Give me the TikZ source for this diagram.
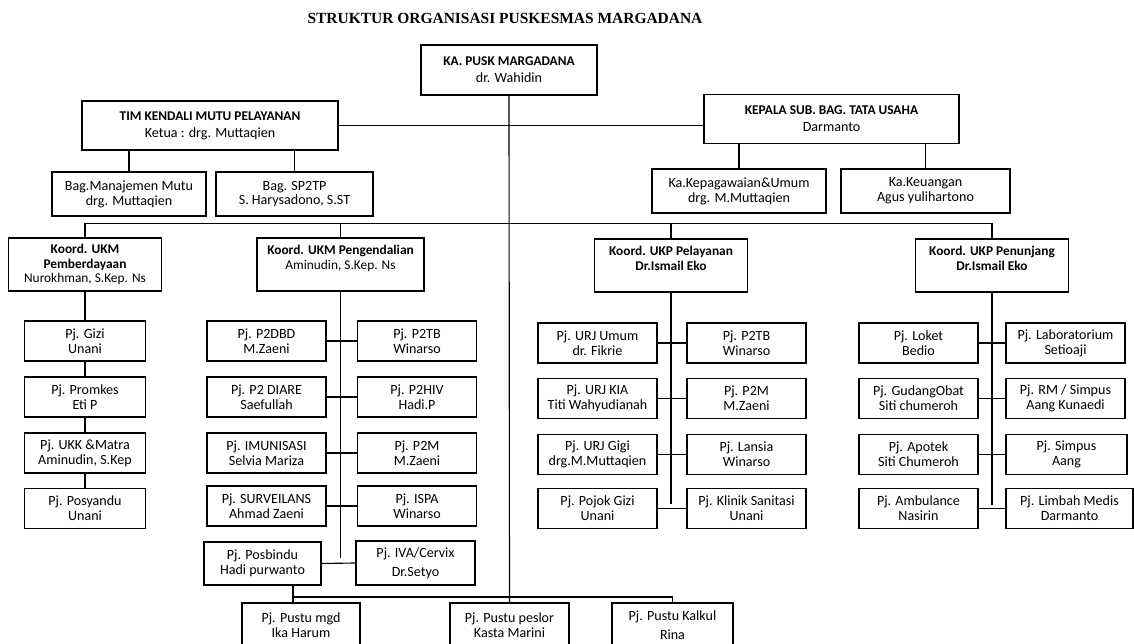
\documentclass[tikz,border=0pt]{standalone}
\usepackage{fontspec}
\setmainfont{Carlito}
\newfontfamily\titlefont{Liberation Serif}

\begin{document}
\begin{tikzpicture}[
    x=0.025cm, y=-0.025cm,
    box/.style={rectangle, draw=black, line width=0.9pt, fill=white, align=center, inner sep=1pt, font=\fontsize{10}{10.5}\selectfont},
    pj/.style={box, minimum width=2.98cm, minimum height=1cm},
    head/.style={box, minimum height=1.22cm, font=\fontsize{10}{12}\selectfont},
    koord/.style={box, minimum width=3.82cm, minimum height=1.33cm, font=\fontsize{9.5}{10.5}\selectfont\bfseries},
    link/.style={draw=black, line width=0.8pt}
]
    \useasboundingbox (0,0) rectangle (1134,644);

    % Title
    \node[font=\titlefont\bfseries\fontsize{11}{12}\selectfont] (title) at (505,18) {STRUKTUR ORGANISASI PUSKESMAS MARGADANA};

    % Pimpinan
    \node[head, minimum width=4.4cm, minimum height=1.25cm] (ka) at (509,70) {\fontsize{9.5}{12}\selectfont\textbf{KA. PUSK MARGADANA}\\dr. Wahidin};
    \node[head, minimum width=6.4cm] (tim) at (210,125.5) {\fontsize{9.5}{12}\selectfont\textbf{TIM KENDALI MUTU PELAYANAN}\\Ketua : drg. Muttaqien};
    \node[head, minimum width=6.375cm] (kepala) at (831.5,119) {\fontsize{9.5}{12}\selectfont\textbf{KEPALA SUB. BAG. TATA USAHA}\\Darmanto};

    % Tim mutu & tata usaha
    \node[pj, minimum width=3.85cm, minimum height=1.1cm] (manajemen) at (129,194) {Bag.Manajemen Mutu\\drg. Muttaqien};
    \node[pj, minimum width=3.925cm, minimum height=1.1cm] (sp2tp) at (294.5,194) {Bag. SP2TP\\S. Harysadono, S.ST};
    \node[pj, minimum width=4.35cm, minimum height=1.1cm] (kepeg) at (739,191) {Ka.Kepagawaian\&Umum\\drg. M.Muttaqien};
    \node[pj, minimum width=4.225cm, minimum height=1.1cm] (keuangan) at (925.5,191) {Ka.Keuangan\\Agus yulihartono};

    % Koordinator
    \node[koord] (ukm1) at (85,264.5) {Koord. UKM\\Pemberdayaan\\\mdseries Nurokhman, S.Kep. Ns};
    \node[koord, minimum width=4.175cm] (ukm2) at (340.5,264.5) {Koord. UKM Pengendalian\\\mdseries Aminudin, S.Kep. Ns\\~};
    \node[koord] (ukp1) at (671,265.5) {Koord. UKP Pelayanan\\Dr.Ismail Eko\\~};
    \node[koord] (ukp2) at (992,265.5) {Koord. UKP Penunjang\\Dr.Ismail Eko\\~};

    % UKM Pemberdayaan
    \node[pj, minimum width=3.025cm] (gizi) at (85,341) {Pj. Gizi\\Unani};
    \node[pj, minimum width=3.025cm] (promkes) at (85,397) {Pj. Promkes\\Eti P};
    \node[pj, minimum width=3.025cm] (ukk) at (85,453) {Pj. UKK \&Matra\\Aminudin, S.Kep};
    \node[pj, minimum width=3.025cm] (posyandu) at (85,508.5) {Pj. Posyandu\\Unani};

    % UKM Pengendalian
    \node[pj] (p2dbd) at (266.5,341) {Pj. P2DBD\\M.Zaeni};
    \node[pj] (p2tb) at (417,341) {Pj. P2TB\\Winarso};
    \node[pj] (diare) at (266.5,397) {Pj. P2 DIARE\\Saefullah};
    \node[pj] (p2hiv) at (417,397) {Pj. P2HIV\\Hadi.P};
    \node[pj] (imunisasi) at (266.5,453) {Pj. IMUNISASI\\Selvia Mariza};
    \node[pj] (p2m) at (417,453) {Pj. P2M\\M.Zaeni};
    \node[pj] (surveilans) at (266.5,506) {Pj. SURVEILANS\\Ahmad Zaeni};
    \node[pj] (ispa) at (417,506) {Pj. ISPA\\Winarso};
    \node[pj, minimum width=2.925cm, minimum height=1.075cm] (posbindu) at (262.5,563.5) {Pj. Posbindu\\Hadi purwanto};
    \node[pj, minimum height=1.1cm] (iva) at (415.5,563) {Pj. IVA/Cervix\\[3pt]Dr.Setyo};

    % UKP Pelayanan
    \node[pj] (urjumum) at (597.5,343) {Pj. URJ Umum\\dr. Fikrie};
    \node[pj] (p2tbb) at (746.5,343) {Pj. P2TB\\Winarso};
    \node[pj] (urjkia) at (597.5,398.5) {Pj. URJ KIA\\Titi Wahyudianah};
    \node[pj] (p2mb) at (746.5,398.5) {Pj. P2M\\M.Zaeni};
    \node[pj] (urjgigi) at (597.5,454.5) {Pj. URJ Gigi\\drg.M.Muttaqien};
    \node[pj] (lansia) at (746.5,454.5) {Pj. Lansia\\Winarso};
    \node[pj] (pojokgizi) at (597.5,508.5) {Pj. Pojok Gizi\\Unani};
    \node[pj] (klinik) at (746.5,508.5) {Pj. Klinik Sanitasi\\Unani};

    % UKP Penunjang
    \node[pj] (loket) at (918.5,343) {Pj. Loket\\Bedio};
    \node[pj] (lab) at (1065.5,343) {Pj. Laboratorium\\Setioaji};
    \node[pj] (gudang) at (918.5,398.5) {Pj. GudangObat\\Siti chumeroh};
    \node[pj] (rm) at (1065.5,398.5) {Pj. RM / Simpus\\Aang Kunaedi};
    \node[pj] (apotek) at (918.5,454.5) {Pj. Apotek\\Siti Chumeroh};
    \node[pj, minimum width=3.025cm] (simpus) at (1066.5,454.5) {Pj. Simpus\\Aang};
    \node[pj] (ambulance) at (918.5,508.5) {Pj. Ambulance\\Nasirin};
    \node[pj, minimum width=3.175cm] (limbah) at (1069.5,508.5) {Pj. Limbah Medis\\Darmanto};

    % Pustu
    \node[pj, minimum width=2.95cm, minimum height=1.125cm] (mgd) at (301,625.5) {Pj. Pustu mgd\\Ika Harum};
    \node[pj, minimum height=1.125cm] (peslor) at (509.5,625.5) {Pj. Pustu peslor\\Kasta Marini};
    \node[pj, minimum width=3.025cm, minimum height=1.125cm] (kalkul) at (672.5,625.5) {Pj. Pustu Kalkul\\[3pt]Rina};

    % garis
    \draw[link] (ka.south) -- (peslor.north);
    \draw[link] (tim.east) -- (kepala.west |- tim.east);
    \draw[link] (manajemen.north) -- (manajemen.north |- tim.south);
    \draw[link] (sp2tp.north) -- (sp2tp.north |- tim.south);
    \draw[link] (kepeg.north) -- (kepeg.north |- kepala.south);
    \draw[link] (keuangan.north) -- (keuangan.north |- kepala.south);
    \draw[link] (ukm1.north) -- ++(0,-14) -| (ukp2.north);
    \draw[link] (ukm2.north) -- ++(0,-14);
    \draw[link] (ukp1.north) -- ++(0,-15);

    \draw[link] (ukm1.south) -- (gizi.north);
    \draw[link] (gizi.south) -- (promkes.north);
    \draw[link] (promkes.south) -- (ukk.north);
    \draw[link] (ukk.south) -- (posyandu.north);

    \draw[link] (ukm2.south) -- ++(0,266);
    \draw[link] (p2dbd.east) -- (p2tb.west);
    \draw[link] (diare.east) -- (p2hiv.west);
    \draw[link] (imunisasi.east) -- (p2m.west);
    \draw[link] (surveilans.east) -- (ispa.west);
    \draw[link] (posbindu.east) -- (iva.west);

    \draw[link] (ukp1.south) -- ++(0,211);
    \draw[link] (urjumum.east) -- (p2tbb.west);
    \draw[link] (urjkia.east) -- (p2mb.west);
    \draw[link] (urjgigi.east) -- (lansia.west);
    \draw[link] (pojokgizi.east) -- (klinik.west);

    \draw[link] (ukp2.south) -- ++(0,212);
    \draw[link] (loket.east) -- (lab.west);
    \draw[link] (gudang.east) -- (rm.west);
    \draw[link] (apotek.east) -- (simpus.west);
    \draw[link] (ambulance.east) -- (limbah.west);

    \coordinate (pustu) at (293,597);
    \draw[link] (posbindu.south -| pustu) -- (mgd.north -| pustu);
    \draw[link] (pustu) -| (kalkul.north);
\end{tikzpicture}
\end{document}
